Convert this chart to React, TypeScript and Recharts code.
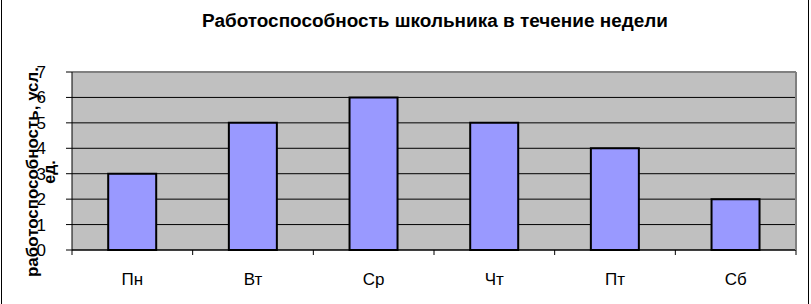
import { BarChart, Bar, XAxis, YAxis, CartesianGrid, ReferenceLine, Customized } from "recharts";

const days = ["Пн", "Вт", "Ср", "Чт", "Пт", "Сб"];
const capacity = [3, 5, 6, 5, 4, 2];
const yTicks = [0, 1, 2, 3, 4, 5, 6, 7];

const data = days.map((d, i) => ({ d, v: capacity[i] }));

const font = "'Liberation Sans', Arial, sans-serif";

function DayTick(props: any) {
  const { x, y, payload, index, width, visibleTicksCount } = props;
  const half = width / visibleTicksCount / 2;
  return (
    <g>
      <line x1={x - half} x2={x - half} y1={y} y2={y + 5} stroke="#000" />
      {index === visibleTicksCount - 1 && <line x1={x + half} x2={x + half} y1={y} y2={y + 5} stroke="#000" />}
      <text x={x} y={y + 35} textAnchor="middle" fontSize={17} fontFamily={font} fill="#000">
        {payload.value}
      </text>
    </g>
  );
}

function Frame() {
  return (
    <g>
      <rect x={1.5} y={-2} width={807} height={310} fill="none" stroke="#000" />
      <text
        x={435}
        y={27}
        textAnchor="middle"
        fontSize={18}
        fontWeight="bold"
        fontFamily={font}
        textLength={466}
        lengthAdjust="spacingAndGlyphs"
      >
        Работоспособность школьника в течение недели
      </text>
      <text
        transform="translate(38,172) rotate(-90)"
        textAnchor="middle"
        fontSize={16}
        fontWeight="bold"
        fontFamily={font}
        textLength={210}
        lengthAdjust="spacingAndGlyphs"
      >
        работоспособность, усл.
      </text>
      <text transform="translate(55,172) rotate(-90)" textAnchor="middle" fontSize={16} fontWeight="bold" fontFamily={font}>
        ед.
      </text>
    </g>
  );
}

export default function App() {
  return (
    <div style={{ position: "absolute", left: 0, top: 0, width: 811, height: 304, background: "#fff" }}>
      <BarChart width={811} height={304} data={data} margin={{ top: 72, right: 14, left: 0, bottom: 0 }} barCategoryGap="30%">
        <CartesianGrid vertical={false} fill="#C0C0C0" stroke="#000" fillOpacity={1} />
        <XAxis
          dataKey="d"
          height={54}
          axisLine={{ stroke: "#000" }}
          tickLine={false}
          tickSize={0}
          tickMargin={0}
          tick={<DayTick />}
          interval={0}
        />
        <YAxis
          domain={[0, 7]}
          ticks={yTicks}
          width={72}
          axisLine={{ stroke: "#000" }}
          tickLine={{ stroke: "#000" }}
          tickSize={6}
          tickMargin={20}
          tick={{ fill: "#000", fontSize: 17, fontFamily: font }}
          interval={0}
        />
        <YAxis yAxisId="r" orientation="right" width={1} tick={false} tickLine={false} axisLine={{ stroke: "#808080", strokeWidth: 2 }} />
        <ReferenceLine y={7} stroke="#808080" strokeWidth={2} />
        <Bar dataKey="v" fill="#9999FF" stroke="#000" strokeWidth={2} isAnimationActive={false} />
        <Customized component={<Frame />} />
      </BarChart>
    </div>
  );
}
